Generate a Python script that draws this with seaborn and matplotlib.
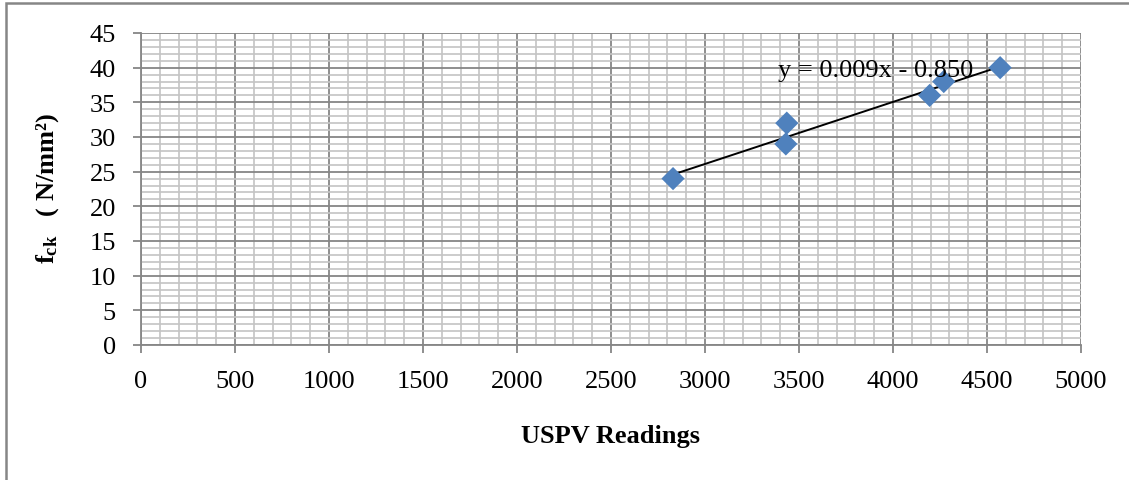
import numpy as np
import pandas as pd
import matplotlib
matplotlib.use("Agg")
import matplotlib.pyplot as plt
from matplotlib.patches import Rectangle
from matplotlib.ticker import MultipleLocator
import seaborn as sns

# USPV readings vs characteristic strength
uspv = [2830, 3435, 3430, 4195, 4270, 4570]
fck = [24, 32, 29, 36, 38, 40]
equation = "y = 0.009x - 0.850"
xlabel = "USPV Readings"

df = pd.DataFrame({"uspv": uspv, "fck": fck})

sns.set_style("white")
plt.rcParams['font.family'] = ['Liberation Serif', 'DejaVu Serif']
plt.rcParams['text.color'] = 'black'
plt.rcParams['mathtext.fontset'] = 'custom'
plt.rcParams['mathtext.rm'] = 'Liberation Serif'
plt.rcParams['mathtext.bf'] = 'Liberation Serif:bold'
plt.rcParams['mathtext.it'] = 'Liberation Serif:italic'

fig = plt.figure(figsize=(11.29, 4.81), dpi=100)
ax = fig.add_axes([141/1129, 1-346/481, (1081-141)/1129, (346-34)/481])

grid_major = '#868686'
grid_minor = '#c4c4c4'

ax.set_xlim(0, 5000)
ax.set_ylim(0, 45)
ax.xaxis.set_major_locator(MultipleLocator(500))
ax.xaxis.set_minor_locator(MultipleLocator(100))
ax.yaxis.set_major_locator(MultipleLocator(5))
ax.yaxis.set_minor_locator(MultipleLocator(1))
ax.grid(which='minor', color=grid_minor, lw=1.2, zorder=0)
ax.grid(which='major', color=grid_major, lw=1.3, zorder=0)
ax.set_axisbelow(True)

sns.regplot(data=df, x="uspv", y="fck", scatter=False, ci=None, ax=ax,
            line_kws={'color': 'black', 'lw': 1.4, 'zorder': 3})
sns.scatterplot(data=df, x="uspv", y="fck", marker='D', s=140, color='#4F81BD',
                edgecolor='none', ax=ax, zorder=4)

ax.text(778/1129, 1-71/481, equation, transform=fig.transFigure, fontsize=19,
        ha='left', va='center', color='black', zorder=5)

for sp in ax.spines.values():
    sp.set_visible(False)
ax.spines['left'].set_visible(True)
ax.spines['bottom'].set_visible(True)
ax.spines['left'].set_color(grid_major)
ax.spines['bottom'].set_color(grid_major)
ax.spines['left'].set_linewidth(1.3)
ax.spines['bottom'].set_linewidth(1.3)

ax.tick_params(which='major', direction='out', length=6, width=1.3, color=grid_major,
               labelsize=19, pad=12, labelcolor='black', left=True, bottom=True)
ax.tick_params(which='minor', length=0)
ax.tick_params(axis='y', pad=12)

ax.set_xlabel("")
ax.set_ylabel("")
fig.text(611/1129, 1-437/481, xlabel, fontsize=19, fontweight='bold',
         ha='center', va='center', color='black')
fig.text(48/1129, 1-188/481, r'$\mathbf{f_{ck}}$' + '   ( N/mm²)', fontsize=19,
         fontweight='bold', rotation=90, ha='center', va='center', color='black')

# outer chart border (right and bottom run off the image)
fig.patches.append(Rectangle((6/1129, -0.1), 1.2, 1.1 - 4/481, transform=fig.transFigure,
                             fill=False, edgecolor=grid_major, lw=1.8, clip_on=False))

fig.savefig("out.png", dpi=100)
